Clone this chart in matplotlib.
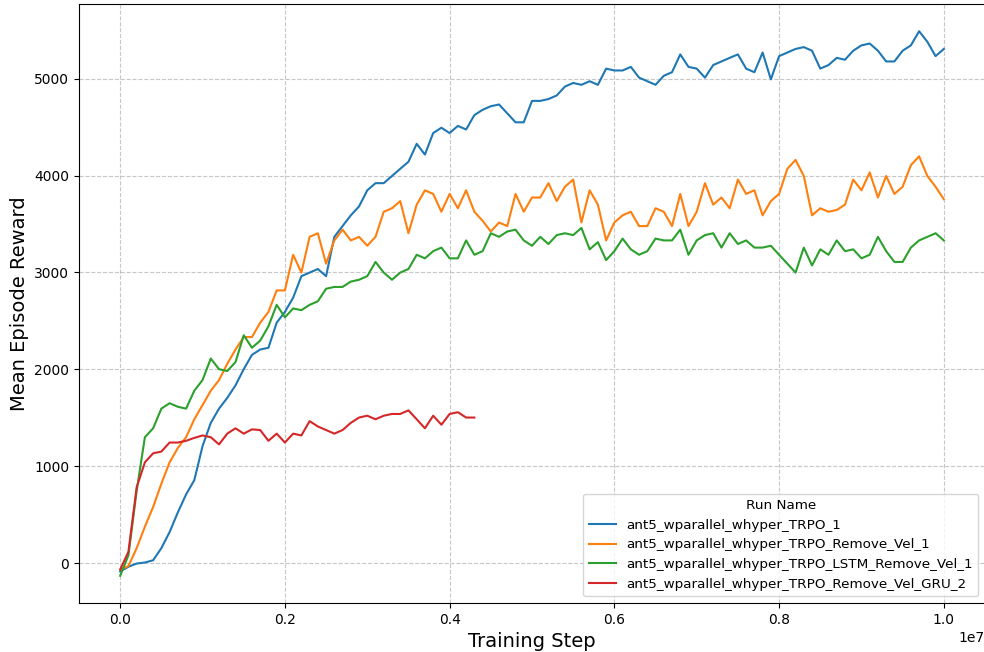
import numpy as np
import matplotlib
matplotlib.use("Agg")
from matplotlib import pyplot as plt

# training step grid, in millions of steps
steps = np.round(np.arange(0, 10.01, 0.1), 1) * 1e6

trpo = [-85, -37, -4, 7, 30, 155, 321, 524, 709, 857,
        1208, 1448, 1595, 1706, 1835, 2002, 2150, 2205, 2223, 2482,
        2593, 2740, 2962, 2999, 3036, 2962, 3368, 3479, 3590, 3682,
        3848, 3922, 3922, 3996, 4070, 4143, 4328, 4217, 4439, 4494,
        4439, 4513, 4476, 4624, 4679, 4716, 4734, 4642, 4550, 4550,
        4771, 4771, 4790, 4827, 4919, 4956, 4937, 4974, 4937, 5104,
        5085, 5085, 5122, 5011, 4974, 4937, 5030, 5067, 5251, 5122,
        5104, 5011, 5141, 5178, 5215, 5251, 5104, 5067, 5270, 4993,
        5233, 5270, 5307, 5326, 5289, 5104, 5141, 5215, 5196, 5289,
        5344, 5363, 5289, 5178, 5178, 5289, 5344, 5490, 5381, 5233,
        5307]

remove_vel = [-66, -30, 155, 377, 580, 820, 1041, 1189, 1300, 1485,
              1632, 1780, 1890, 2057, 2205, 2334, 2334, 2482, 2593, 2815,
              2815, 3183, 2999, 3368, 3405, 3091, 3331, 3442, 3331, 3368,
              3276, 3368, 3627, 3663, 3737, 3405, 3700, 3848, 3811, 3627,
              3811, 3663, 3848, 3627, 3534, 3423, 3516, 3479, 3811, 3627,
              3774, 3774, 3922, 3737, 3885, 3959, 3516, 3848, 3700, 3331,
              3516, 3590, 3627, 3479, 3479, 3663, 3627, 3479, 3811, 3479,
              3627, 3922, 3700, 3774, 3663, 3959, 3811, 3848, 3590, 3737,
              3811, 4070, 4162, 3996, 3590, 3663, 3627, 3645, 3700, 3959,
              3848, 4033, 3774, 3996, 3811, 3885, 4107, 4199, 3996, 3885,
              3756]

lstm = [-130, 81, 746, 1300, 1392, 1595, 1651, 1614, 1595, 1780,
        1890, 2112, 2002, 1983, 2075, 2352, 2223, 2297, 2445, 2666,
        2537, 2629, 2611, 2666, 2703, 2832, 2851, 2851, 2906, 2925,
        2962, 3109, 2999, 2925, 2999, 3036, 3183, 3146, 3220, 3257,
        3146, 3146, 3331, 3183, 3220, 3405, 3368, 3423, 3442, 3331,
        3276, 3368, 3294, 3386, 3405, 3386, 3460, 3239, 3313, 3128,
        3220, 3350, 3239, 3183, 3220, 3350, 3331, 3331, 3442, 3183,
        3331, 3386, 3405, 3257, 3405, 3294, 3331, 3257, 3257, 3276,
        3183, 3091, 2999, 3257, 3073, 3239, 3183, 3331, 3220, 3239,
        3146, 3183, 3368, 3220, 3109, 3109, 3257, 3331, 3368, 3405,
        3331]

gru = [-66, 118, 783, 1041, 1134, 1152, 1245, 1245, 1263, 1293,
       1318, 1300, 1226, 1337, 1392, 1337, 1381, 1374, 1263, 1337,
       1245, 1337, 1318, 1466, 1411, 1374, 1337, 1374, 1448, 1503,
       1522, 1485, 1522, 1540, 1540, 1577, 1485, 1392, 1522, 1429,
       1540, 1558, 1503, 1503]

runs = ["ant5_wparallel_whyper_TRPO_1",
        "ant5_wparallel_whyper_TRPO_Remove_Vel_1",
        "ant5_wparallel_whyper_TRPO_LSTM_Remove_Vel_1",
        "ant5_wparallel_whyper_TRPO_Remove_Vel_GRU_2"]

fig = plt.figure(figsize=(9.84, 6.52), dpi=100)
ax = fig.add_axes([79 / 984, 49 / 652, 906 / 984, 599 / 652])

for name, rewards in zip(runs, [trpo, remove_vel, lstm, gru]):
    ax.plot(steps[:len(rewards)], rewards, label=name, linewidth=1.5)

ax.grid(True, linestyle='--', alpha=0.7)
ax.set_xlabel('Training Step', fontsize=14)
ax.set_ylabel('Mean Episode Reward', fontsize=14)
ax.legend(title='Run Name', loc='lower right', fontsize=9.7, title_fontsize=9.7)

fig.savefig('out.png', dpi=100)
